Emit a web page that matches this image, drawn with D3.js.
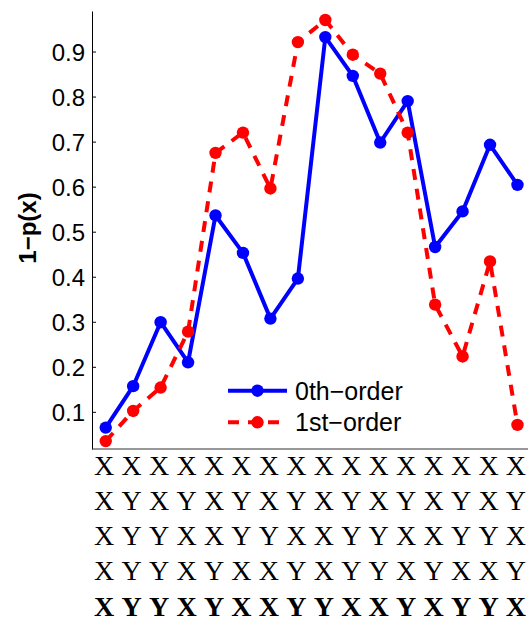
<!DOCTYPE html>
<html>
<head>
<meta charset="utf-8">
<script src="https://cdn.jsdelivr.net/npm/d3@7"></script>
<style>
  html, body { margin: 0; padding: 0; background: #fff; }
  svg { display: block; }
</style>
</head>
<body>
<svg id="chart" width="528" height="621"></svg>
<script>
// Position index along the sequence (1..16)
const positions = d3.range(1, 17);

// 1 - p(x) for the zeroth- and first-order models
const zerothOrder = [0.065, 0.157, 0.299, 0.210, 0.536, 0.453, 0.307, 0.396,
                     0.932, 0.846, 0.698, 0.790, 0.466, 0.545, 0.693, 0.604];
const firstOrder  = [0.035, 0.102, 0.154, 0.278, 0.675, 0.720, 0.596, 0.921,
                     0.970, 0.893, 0.851, 0.720, 0.338, 0.223, 0.434, 0.071];

const yTicks = [0.1, 0.2, 0.3, 0.4, 0.5, 0.6, 0.7, 0.8, 0.9];

// Symbol sequences printed beneath the axis, one row per string
const sequenceRows = [
  "XXXXXXXXXXXXXXXX",
  "XYXYXYXYXYXYXYXY",
  "XYYXXYYXXYYXXYYX",
  "XYYXYXXYXYYXYXXY",
  "XYYXYXXYYXXYXYYX"
];

const seriesNames = ["0th\u2212order", "1st\u2212order"];

const svg = d3.select("#chart");
const sans = "'Liberation Sans', Arial, Helvetica, sans-serif";
const serif = "'Liberation Serif', 'Times New Roman', Times, serif";

const x = d3.scaleLinear().domain([0.5, 16.5]).range([92, 531.2]);
const y = d3.scaleLinear().domain([0.0175, 0.99]).range([449, 11]);

// Axes
const yAxis = d3.axisLeft(y).tickValues(yTicks).tickFormat(d3.format(".1f"))
  .tickSizeInner(-4).tickSizeOuter(0).tickPadding(7);
const gy = svg.append("g").attr("transform", `translate(${x.range()[0]},0)`).call(yAxis);
gy.select(".domain").attr("stroke", "#000").attr("stroke-width", 1);
gy.selectAll(".tick line").attr("stroke", "#000");
gy.selectAll(".tick text").attr("font-family", sans).attr("font-size", 24)
  .attr("fill", "#000").attr("dy", "0.36em");

svg.append("line")
  .attr("x1", x.range()[0]).attr("x2", 528)
  .attr("y1", y.range()[0]).attr("y2", y.range()[0])
  .attr("stroke", "#333").attr("stroke-width", 1.2);

svg.append("text")
  .attr("transform", `translate(36,228) rotate(-90)`)
  .attr("text-anchor", "middle")
  .attr("font-family", sans).attr("font-size", 24).attr("font-weight", "bold")
  .text("1\u2212p(x)");

// Series lines and markers
const line = d3.line().x((d, i) => x(positions[i])).y(d => y(d));

const series = [
  { values: zerothOrder, color: "#0000ff", dash: null },
  { values: firstOrder,  color: "#ff0000", dash: "11,9" }
];

series.forEach(s => {
  svg.append("path").datum(s.values)
    .attr("d", line).attr("fill", "none")
    .attr("stroke", s.color).attr("stroke-width", 4)
    .attr("stroke-dasharray", s.dash)
    .attr("stroke-linejoin", "round");
  svg.append("g").selectAll("circle").data(s.values).join("circle")
    .attr("cx", (d, i) => x(positions[i])).attr("cy", d => y(d))
    .attr("r", 6.2).attr("fill", s.color);
});

// Legend
const legend = svg.append("g");
series.forEach((s, i) => {
  const ly = 390.7 + i * 31.6;
  legend.append("line")
    .attr("x1", 228).attr("x2", 287).attr("y1", ly).attr("y2", ly)
    .attr("stroke", s.color).attr("stroke-width", 4)
    .attr("stroke-dasharray", s.dash);
  legend.append("circle").attr("cx", 257.5).attr("cy", ly).attr("r", 6.2).attr("fill", s.color);
  legend.append("text")
    .attr("x", 295).attr("y", ly).attr("dy", "0.36em")
    .attr("font-family", sans).attr("font-size", 25)
    .text(seriesNames[i]);
});

// Sequence table under the axis
const rowBaselines = [475, 510, 544.5, 579.5, 615.5];
sequenceRows.forEach((row, r) => {
  svg.append("g").selectAll("text").data(row.split("")).join("text")
    .attr("x", (d, i) => x(positions[i]) - 1.5)
    .attr("y", rowBaselines[r])
    .attr("text-anchor", "middle")
    .attr("font-family", serif).attr("font-size", 28)
    .attr("font-weight", r === sequenceRows.length - 1 ? "bold" : "normal")
    .text(d => d);
});
</script>
</body>
</html>
